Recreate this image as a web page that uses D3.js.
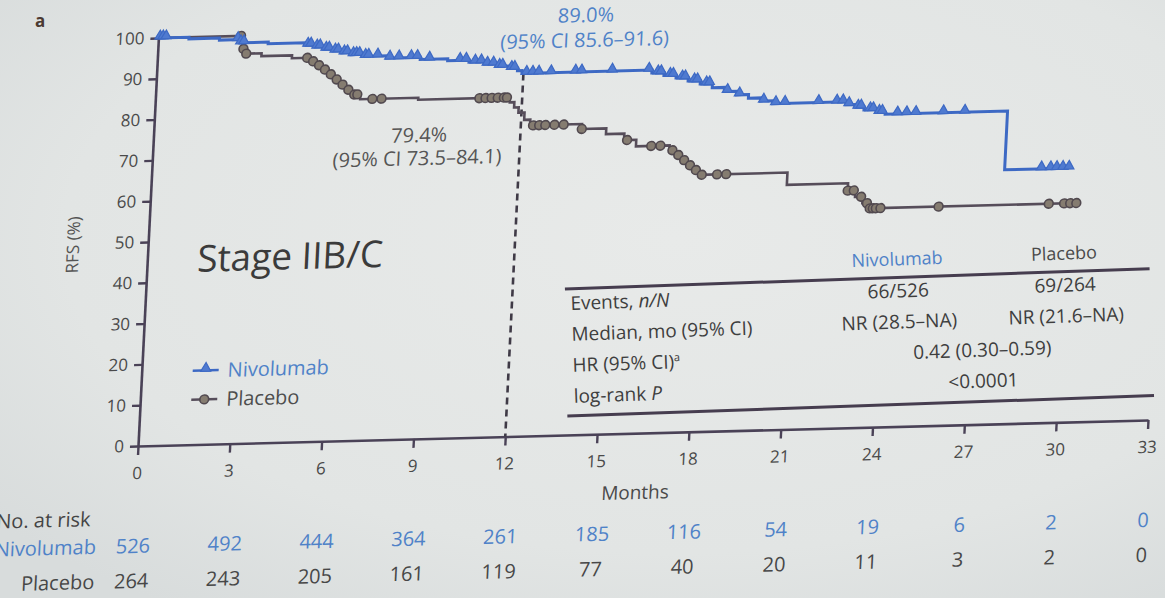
<!DOCTYPE html>
<html>
<head>
<meta charset="utf-8">
<script src="https://cdn.jsdelivr.net/npm/d3@7"></script>
<style>
  html, body { margin: 0; padding: 0; background: #e3e6e5; }
  svg { display: block; font-family: "Open Sans", "DejaVu Sans", sans-serif; }
</style>
</head>
<body>
<svg id="chart" width="1165" height="598"></svg>
<script>
// ---------- data ----------
const monthTicks = [0, 3, 6, 9, 12, 15, 18, 21, 24, 27, 30, 33];
const rfsTicks = [0, 10, 20, 30, 40, 50, 60, 70, 80, 90, 100];

// Kaplan–Meier RFS, nivolumab: step times (months) and RFS (%) after each step
const nivoTimes = [0, 1.0, 2.0, 2.7, 3.6, 4.8, 5.1, 5.4, 5.7, 6.0, 6.3, 6.7, 7.5, 8.6, 9.5, 10.2, 10.7, 11.1, 11.5, 11.8, 11.95,
  16.2, 16.6, 17.0, 17.4, 17.8, 18.2, 18.6, 19.0, 19.4, 19.8, 20.2, 22.6, 22.9, 23.2, 23.6, 23.9, 27.9];
const nivoRFS = [100, 99.6, 99.1, 98.3, 97.9, 97.3, 96.8, 96.2, 95.7, 95.2, 94.7, 94.2, 93.6, 93.1, 92.6, 92.1, 91.5, 90.9, 90.3, 89.7, 89.0,
  88.3, 87.6, 86.9, 86.1, 85.3, 84.3, 83.3, 82.4, 81.5, 80.7, 80.0, 79.3, 78.6, 77.9, 77.2, 76.7, 62.3];
const nivoLastFollowUp = 30.0;
const nivoCensored = [0.05, 0.15, 0.25, 2.6, 2.7, 2.8, 4.9, 5.0, 5.2, 5.3, 5.5, 5.6, 5.8, 5.9, 6.1, 6.2, 6.4, 6.5, 6.6, 6.8, 6.9,
  7.2, 7.6, 7.9, 8.3, 8.5, 8.9, 9.9, 10.1, 10.4, 10.6, 10.8, 11.0, 11.2, 11.3, 11.6, 11.7, 12.1, 12.3, 12.5,
  12.9, 13.7, 13.9, 14.9, 16.1, 16.4, 16.5, 16.8, 16.9, 17.2, 17.3, 17.6, 17.7, 18.0, 18.1,
  18.7, 19.1, 19.9, 20.3, 20.6, 21.7, 22.3, 22.5, 22.7, 23.0, 23.1, 23.4, 23.5, 23.7, 23.8,
  24.3, 24.6, 24.9, 25.8, 26.5, 29.1, 29.4, 29.6, 29.8, 30.0];

// Kaplan–Meier RFS, placebo
const placeboTimes = [0, 2.75, 2.85, 3.4, 4.4, 5.0, 5.2, 5.4, 5.6, 5.8, 6.0, 6.2, 6.4, 6.7, 8.6, 11.6, 11.75, 11.9, 12.1, 12.3,
  14.0, 14.8, 15.4, 15.8, 16.9, 17.1, 17.3, 17.5, 17.7, 17.9, 20.8, 22.8, 23.05, 23.3, 23.5];
const placeboRFS = [100, 96.8, 95.6, 94.9, 94.2, 93.3, 92.3, 91.2, 90.0, 88.7, 87.4, 86.1, 84.9, 83.7, 83.2, 82.0, 80.7, 79.4, 77.6, 76.2,
  75.0, 73.6, 72.0, 70.4, 69.2, 68.0, 66.7, 65.4, 64.2, 63.0, 60.0, 58.2, 56.6, 55.0, 53.7];
const placeboLastFollowUp = 30.3;
const placeboCensored = [2.7, 2.8, 2.9, 4.9, 5.1, 5.3, 5.5, 5.7, 5.9, 6.1, 6.3, 6.5, 6.6, 7.1, 7.4,
  10.6, 10.8, 11.0, 11.2, 11.4, 11.5, 12.4, 12.6, 12.8, 13.1, 13.4, 14.0, 15.5, 16.3, 16.6,
  17.0, 17.2, 17.4, 17.6, 17.8, 18.0, 18.5, 18.8, 22.8, 23.0, 23.25, 23.45, 23.55, 23.65, 23.75, 23.9,
  25.8, 29.4, 29.9, 30.1, 30.3];

// 12-month landmark estimates
const landmarkMonth = 12;
const landmarkNivo = 89.0;
const landmarkPlacebo = 79.4;

// Numbers at risk at each month tick
const atRiskNivo = [526, 492, 444, 364, 261, 185, 116, 54, 19, 6, 2, 0];
const atRiskPlacebo = [264, 243, 205, 161, 119, 77, 40, 20, 11, 3, 2, 0];

// Summary table
const tableColumns = ["Nivolumab", "Placebo"];
const eventsCol = ["66/526", "69/264"];
const medianCol = ["NR (28.5–NA)", "NR (21.6–NA)"];
const hazardRatio = "0.42 (0.30–0.59)";
const logRankP = "<0.0001";

// ---------- styles ----------
const BLUE = "#3d69c4", BLUE_TXT = "#4f82c8";
const GREY = "#564d5a", GREY_TXT = "#474747";
const AXIS = "#4a4257";

const W = 1010, H = 408;
const x = d3.scaleLinear().domain([0, 33]).range([0, W]);
const y = d3.scaleLinear().domain([0, 100]).range([H, 0]);

const svg = d3.select("#chart");
const defs = svg.append("defs");
const bg = defs.append("radialGradient").attr("id", "bg")
  .attr("cx", "0.58").attr("cy", "0.4").attr("r", "0.75");
bg.append("stop").attr("offset", "0").attr("stop-color", "#e8eae9");
bg.append("stop").attr("offset", "0.7").attr("stop-color", "#e2e5e4");
bg.append("stop").attr("offset", "1").attr("stop-color", "#d8dcdc");
svg.append("rect").attr("width", 1165).attr("height", 598).attr("fill", "url(#bg)");

svg.append("text").attr("x", 35).attr("y", 27).text("a")
  .attr("font-size", 17).attr("font-weight", 700).attr("fill", "#4b3a33");

// plot group, slightly skewed like the projected slide
const g = svg.append("g").attr("transform", "matrix(1,-0.02574,-0.05,1,158.4,38)");

// axes
const xAxis = g.append("g").attr("transform", `translate(0,${H})`)
  .call(d3.axisBottom(x).tickValues(monthTicks).tickSize(9).tickSizeOuter(0).tickPadding(12));
const yAxis = g.append("g")
  .call(d3.axisLeft(y).tickValues(rfsTicks).tickSize(8).tickSizeOuter(0).tickPadding(6));
[xAxis, yAxis].forEach(a => {
  a.select(".domain").attr("stroke", AXIS).attr("stroke-width", 2.6);
  a.selectAll(".tick line").attr("stroke", AXIS).attr("stroke-width", 2.4);
  a.selectAll(".tick text").attr("font-size", 17).attr("fill", "#4a4a4a")
    .attr("font-family", "'Open Sans', sans-serif");
});

g.append("text").attr("transform", `translate(-69,205) rotate(-90)`)
  .attr("text-anchor", "middle").attr("font-size", 17).attr("fill", "#555").text("RFS (%)");
g.append("text").attr("x", 500).attr("y", 474).attr("text-anchor", "middle")
  .attr("font-size", 19).attr("fill", "#4a4a4a").text("Months");

// landmark dashed line
g.append("line")
  .attr("x1", x(landmarkMonth)).attr("x2", x(landmarkMonth))
  .attr("y1", y(landmarkNivo)).attr("y2", y(0))
  .attr("stroke", "#3f3a46").attr("stroke-width", 2.6).attr("stroke-dasharray", "7,5");

// KM curves
const stepLine = d3.line().x(d => x(d[0])).y(d => y(d[1])).curve(d3.curveStepAfter);
function curvePoints(times, vals, end) {
  const pts = times.map((t, i) => [t, vals[i]]);
  pts.push([end, vals[vals.length - 1]]);
  return pts;
}
function rfsAt(times, vals, t) {
  const i = d3.bisectRight(times, t) - 1;
  return vals[Math.max(0, i)];
}

g.append("path").datum(curvePoints(placeboTimes, placeboRFS, placeboLastFollowUp))
  .attr("d", stepLine).attr("fill", "none").attr("stroke", GREY).attr("stroke-width", 2.6);
g.append("path").datum(curvePoints(nivoTimes, nivoRFS, nivoLastFollowUp))
  .attr("d", stepLine).attr("fill", "none").attr("stroke", BLUE).attr("stroke-width", 3);

// censor marks
g.selectAll(".cens-p").data(placeboCensored).join("circle")
  .attr("cx", d => x(d)).attr("cy", d => y(rfsAt(placeboTimes, placeboRFS, d)))
  .attr("r", 4.4).attr("fill", "#857c70").attr("stroke", "#51494f").attr("stroke-width", 1.6);

const tri = d3.symbol().type(d3.symbolTriangle).size(44);
g.selectAll(".cens-n").data(nivoCensored).join("path")
  .attr("d", tri)
  .attr("transform", d => `translate(${x(d)},${y(rfsAt(nivoTimes, nivoRFS, d)) - 2})`)
  .attr("fill", "#4f7ad0").attr("stroke", BLUE).attr("stroke-width", 1.2);

// landmark labels
g.append("text").attr("x", 427).attr("y", -5).attr("text-anchor", "middle")
  .attr("font-size", 20).attr("fill", BLUE_TXT).text(landmarkNivo.toFixed(1) + "%");
g.append("text").attr("x", 427).attr("y", 20).attr("text-anchor", "middle")
  .attr("font-size", 20).attr("fill", BLUE_TXT).text("(95% CI 85.6–91.6)");
g.append("text").attr("x", 266).attr("y", 111).attr("text-anchor", "middle")
  .attr("font-size", 20).attr("fill", "#555").text(landmarkPlacebo.toFixed(1) + "%");
g.append("text").attr("x", 265).attr("y", 134).attr("text-anchor", "middle")
  .attr("font-size", 20).attr("fill", "#555").text("(95% CI 73.5–84.1)");

// title
g.append("text").attr("x", 50).attr("y", 235).attr("font-size", 37)
  .attr("fill", "#3b3b3b").text("Stage IIB/C");

// legend
const legend = [
  { name: "Nivolumab", color: BLUE, txt: BLUE_TXT, ly: 334, sym: "tri" },
  { name: "Placebo", color: GREY, txt: "#4d4d4d", ly: 363, sym: "circ" }
];
legend.forEach(l => {
  g.append("line").attr("x1", 51).attr("x2", 77).attr("y1", l.ly).attr("y2", l.ly)
    .attr("stroke", l.color).attr("stroke-width", 2.4);
  if (l.sym === "tri") {
    g.append("path").attr("d", tri).attr("transform", `translate(64,${l.ly - 2})`)
      .attr("fill", "#4f7ad0").attr("stroke", BLUE).attr("stroke-width", 1.2);
  } else {
    g.append("circle").attr("cx", 64).attr("cy", l.ly).attr("r", 4.4)
      .attr("fill", "#857c70").attr("stroke", "#51494f").attr("stroke-width", 1.6);
  }
  g.append("text").attr("x", 86).attr("y", l.ly + 7).attr("font-size", 20)
    .attr("fill", l.txt).text(l.name);
});

// numbers at risk
g.append("text").attr("x", -138).attr("y", 487).attr("font-size", 20)
  .attr("fill", "#444").text("No. at risk");
g.append("text").attr("x", -37).attr("y", 515).attr("text-anchor", "end")
  .attr("font-size", 20).attr("fill", BLUE_TXT).text("Nivolumab");
g.append("text").attr("x", -37).attr("y", 550).attr("text-anchor", "end")
  .attr("font-size", 20).attr("fill", GREY_TXT).text("Placebo");
g.selectAll(".risk-n").data(atRiskNivo).join("text")
  .attr("x", (d, i) => x(monthTicks[i])).attr("y", 515).attr("text-anchor", "middle")
  .attr("font-size", 20).attr("fill", BLUE_TXT).text(d => d);
g.selectAll(".risk-p").data(atRiskPlacebo).join("text")
  .attr("x", (d, i) => x(monthTicks[i])).attr("y", 550).attr("text-anchor", "middle")
  .attr("font-size", 20).attr("fill", GREY_TXT).text(d => d);

// summary table
const tbl = svg.append("g").attr("transform", "translate(567,291) rotate(-2)");
const colX = [331, 498], midX = 413;
const TBL_TXT = "#3e3e3e";
tbl.append("line").attr("x1", -2).attr("x2", 583).attr("y1", -2).attr("y2", -2)
  .attr("stroke", "#463d4f").attr("stroke-width", 3);
tbl.append("line").attr("x1", -4).attr("x2", 583).attr("y1", 125).attr("y2", 125)
  .attr("stroke", "#463d4f").attr("stroke-width", 3);
tableColumns.forEach((c, i) => {
  tbl.append("text").attr("x", colX[i]).attr("y", -14).attr("text-anchor", "middle")
    .attr("font-size", 18).attr("fill", i === 0 ? BLUE_TXT : "#4a4a4a").text(c);
  tbl.append("text").attr("x", colX[i]).attr("y", 18).attr("text-anchor", "middle")
    .attr("font-size", 19).attr("fill", TBL_TXT).text(eventsCol[i]);
  tbl.append("text").attr("x", colX[i]).attr("y", 49).attr("text-anchor", "middle")
    .attr("font-size", 19).attr("fill", TBL_TXT).text(medianCol[i]);
});
tbl.append("text").attr("x", midX).attr("y", 80).attr("text-anchor", "middle")
  .attr("font-size", 19).attr("fill", TBL_TXT).text(hazardRatio);
tbl.append("text").attr("x", midX).attr("y", 111).attr("text-anchor", "middle")
  .attr("font-size", 19).attr("fill", TBL_TXT).text(logRankP);

const ev = tbl.append("text").attr("x", 3).attr("y", 19).attr("font-size", 19).attr("fill", TBL_TXT);
ev.append("tspan").text("Events, ");
ev.append("tspan").attr("font-style", "italic").text("n/N");
tbl.append("text").attr("x", 3).attr("y", 50).attr("font-size", 19).attr("fill", TBL_TXT)
  .text("Median, mo (95% CI)");
const hr = tbl.append("text").attr("x", 3).attr("y", 81).attr("font-size", 19).attr("fill", TBL_TXT);
hr.append("tspan").text("HR (95% CI)");
hr.append("tspan").attr("font-size", 11).attr("dy", -7).text("a");
const lr = tbl.append("text").attr("x", 3).attr("y", 112).attr("font-size", 19).attr("fill", TBL_TXT);
lr.append("tspan").text("log-rank ");
lr.append("tspan").attr("font-style", "italic").text("P");
</script>
</body>
</html>
